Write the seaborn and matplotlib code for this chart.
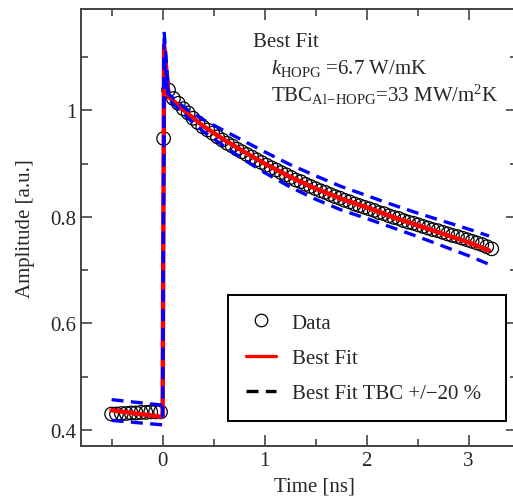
import matplotlib
matplotlib.use("Agg")
import matplotlib.pyplot as plt
import matplotlib.ticker as mticker
from matplotlib.lines import Line2D
import numpy as np
import pandas as pd
import seaborn as sns

# measured data (time in ns, amplitude in a.u.)
data_time = [-0.500, -0.452, -0.404, -0.356, -0.308, -0.260, -0.212, -0.164, -0.116, -0.068, -0.020,
             0.010, 0.058, 0.106, 0.154, 0.202, 0.250, 0.298, 0.346, 0.394, 0.442,
             0.490, 0.538, 0.586, 0.634, 0.682, 0.730, 0.778, 0.826, 0.874, 0.922,
             0.970, 1.018, 1.066, 1.114, 1.162, 1.210, 1.258, 1.306, 1.354, 1.402,
             1.450, 1.498, 1.546, 1.594, 1.642, 1.690, 1.738, 1.786, 1.834, 1.882,
             1.930, 1.978, 2.026, 2.074, 2.122, 2.170, 2.218, 2.266, 2.314, 2.362,
             2.410, 2.458, 2.506, 2.554, 2.602, 2.650, 2.698, 2.746, 2.794, 2.842,
             2.890, 2.938, 2.986, 3.034, 3.082, 3.130, 3.178, 3.226]
data_amp = [0.430, 0.430, 0.431, 0.431, 0.432, 0.432, 0.433, 0.433, 0.434, 0.434, 0.434,
            0.947, 1.038, 1.022, 1.013, 1.003, 0.995, 0.985, 0.977, 0.969, 0.963,
            0.957, 0.950, 0.944, 0.938, 0.933, 0.927, 0.922, 0.917, 0.912, 0.907,
            0.902, 0.897, 0.892, 0.888, 0.883, 0.879, 0.874, 0.869, 0.866, 0.861,
            0.857, 0.853, 0.849, 0.846, 0.842, 0.838, 0.835, 0.831, 0.828, 0.824,
            0.821, 0.818, 0.815, 0.812, 0.808, 0.806, 0.802, 0.799, 0.797, 0.793,
            0.790, 0.788, 0.785, 0.782, 0.779, 0.776, 0.774, 0.771, 0.768, 0.765,
            0.763, 0.760, 0.757, 0.754, 0.751, 0.748, 0.744, 0.740]

# model curves
fit_time = [-0.5, -0.02, 0.0, 0.015, 0.06, 0.15, 0.25, 0.4, 0.6, 0.8, 1.0,
            1.25, 1.5, 1.75, 2.0, 2.25, 2.5, 2.75, 3.0, 3.2]
best_fit = [0.437, 0.425, 0.425, 1.122, 1.025, 1.010, 0.993, 0.970, 0.945, 0.922, 0.900,
            0.875, 0.853, 0.834, 0.818, 0.800, 0.784, 0.768, 0.752, 0.737]
tbc_plus = [0.457, 0.447, 0.447, 1.148, 1.030, 1.015, 1.000, 0.982, 0.962, 0.942, 0.922,
            0.898, 0.877, 0.857, 0.840, 0.823, 0.807, 0.792, 0.777, 0.764]
tbc_minus = [0.418, 0.410, 0.410, 1.100, 1.020, 1.003, 0.985, 0.960, 0.933, 0.907, 0.883,
             0.856, 0.833, 0.813, 0.797, 0.780, 0.763, 0.745, 0.727, 0.711]

sns.set_style("ticks")
plt.rcParams['font.family'] = ['Liberation Serif', 'DejaVu Serif']
plt.rcParams['mathtext.fontset'] = 'custom'
plt.rcParams['mathtext.rm'] = 'Liberation Serif'
plt.rcParams['mathtext.it'] = 'Liberation Serif:italic'
plt.rcParams['font.size'] = 15

df_data = pd.DataFrame({'t': data_time, 'amp': data_amp})
df_fit = pd.DataFrame({'t': fit_time, 'best': best_fit, 'plus': tbc_plus, 'minus': tbc_minus})

fig = plt.figure(figsize=(5.13, 5.02), dpi=100)
# right spine sits just outside the picture, as in the original
ax_w = 436
ax = fig.add_axes([81 / 513, 1 - 447 / 502, ax_w / 513, 437 / 502])

sns.scatterplot(data=df_data, x='t', y='amp', ax=ax, marker='o', s=95,
                facecolor='none', edgecolor='black', linewidth=0.9, zorder=1, legend=False)
sns.lineplot(data=df_fit, x='t', y='best', ax=ax, color='#ff0000', linewidth=3.2,
             estimator=None, sort=False, zorder=2, legend=False)
for col in ['plus', 'minus']:
    sns.lineplot(data=df_fit, x='t', y=col, ax=ax, color='#0000ff', linewidth=2.4,
                 dashes=False, estimator=None, sort=False, zorder=3, legend=False)
for line in ax.lines[1:]:
    line.set_linestyle((0, (3.6, 2.2)))

ax.set_xlim(-0.8, -0.8 + ax_w / 102)
ax.set_ylim(0.37, 1.19)
ax.xaxis.set_major_locator(mticker.MultipleLocator(1))
ax.xaxis.set_minor_locator(mticker.MultipleLocator(0.5))
ax.yaxis.set_major_locator(mticker.MultipleLocator(0.2))
ax.yaxis.set_minor_locator(mticker.MultipleLocator(0.1))
ax.yaxis.set_major_formatter(mticker.FuncFormatter(lambda v, p: f"{v:g}"))
ax.tick_params(which='both', direction='in', top=True, right=True, color='#444444', width=1.2,
               labelsize=15)
ax.tick_params(which='major', length=8)
ax.tick_params(which='minor', length=5)
for sp in ax.spines.values():
    sp.set_color('#444444')
    sp.set_linewidth(1.4)

ax.set_xlabel("Time [ns]", fontsize=15)
ax.xaxis.set_label_coords((314 - 81) / ax_w, -0.069)
ax.set_ylabel("Amplitude [a.u.]", fontsize=15, labelpad=11)

ax.text(0.89, 1.129, "Best Fit", fontsize=15, va='center')
ax.text(1.06, 1.081, r"$k_{\mathrm{HOPG}}$ =6.7 W/mK", fontsize=15, va='center')
ax.text(1.06, 1.030, r"TBC$_{\mathrm{Al\!-\!HOPG}}$=33 MW/m$^2$K", fontsize=15, va='center')

handles = [Line2D([], [], linestyle='none', marker='o', markersize=9, markerfacecolor='none',
                  markeredgecolor='black', markeredgewidth=0.9),
           Line2D([], [], color='#ff0000', linewidth=2.4),
           Line2D([], [], color='black', linewidth=2.4, linestyle=(0, (3.6, 2.2)))]
labels = ["Data", "Best Fit", "Best Fit TBC +/\u221220 %"]
leg = ax.legend(handles, labels, loc='lower left',
                bbox_to_anchor=((228 - 81) / ax_w, 0.057, (506 - 228) / ax_w, 0.295),
                mode='expand', fontsize=15, frameon=True, fancybox=False, labelspacing=0.76,
                borderpad=0.85, handlelength=1.45, handletextpad=0.75, borderaxespad=0)
leg.get_frame().set_edgecolor('black')
leg.get_frame().set_linewidth(1.4)
leg.get_frame().set_alpha(1)

fig.savefig("out.png", dpi=100)
